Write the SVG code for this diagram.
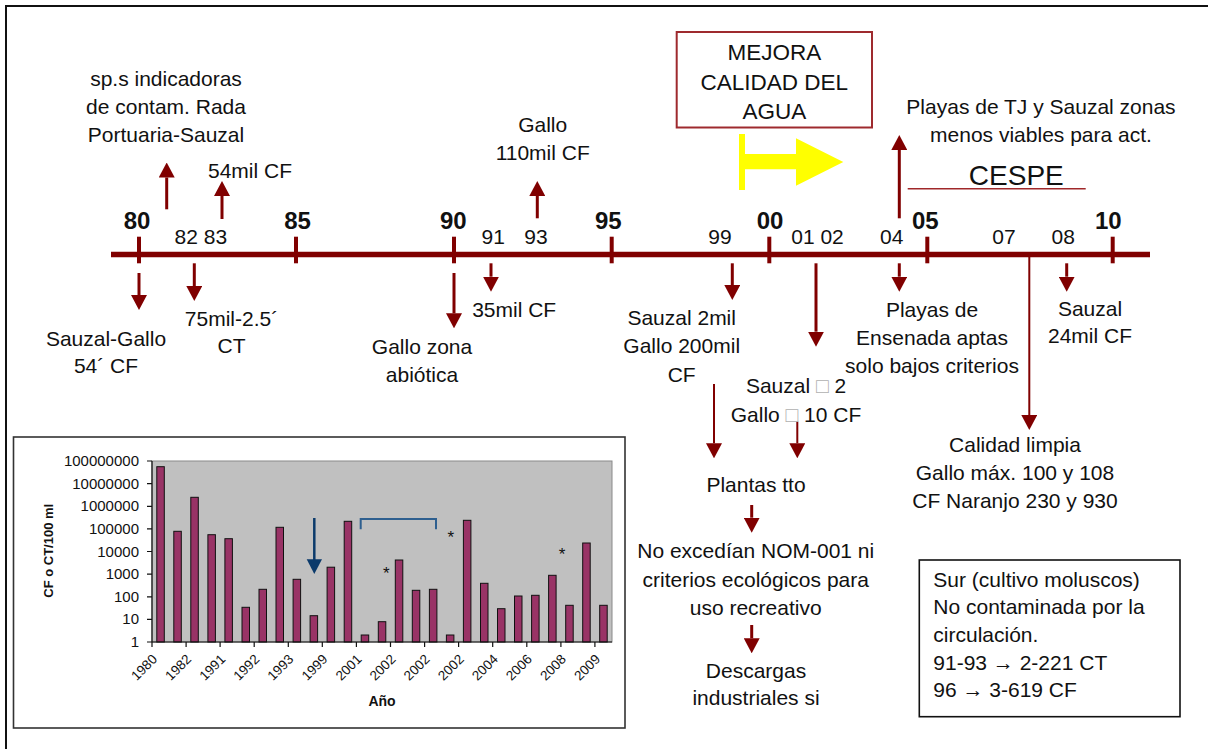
<svg xmlns="http://www.w3.org/2000/svg" width="1208" height="749" viewBox="0 0 1208 749">
<defs>
<marker id="ah" viewBox="0 0 15 16" refX="0" refY="8" markerWidth="15" markerHeight="16" markerUnits="userSpaceOnUse" orient="auto">
<path d="M0,0 L15,8 L0,16 z" fill="#800000"/>
</marker>
<style>
.t{font-family:"Liberation Sans",Arial,sans-serif;font-size:21px;fill:#111;text-anchor:middle}
.tl{text-anchor:start}
.sq{fill:#b0b0b0}
.maj{font-family:"Liberation Sans",Arial,sans-serif;font-size:24px;font-weight:bold;fill:#111;text-anchor:middle}
.arr{stroke:#800000;stroke-width:3;fill:none;marker-end:url(#ah)}
.thin{stroke-width:2}
.tick{stroke:#800000;stroke-width:4}
.ct{font-family:"Liberation Sans",Arial,sans-serif;font-size:15px;fill:#111}
.bar{fill:#993366;stroke:#111;stroke-width:1}
</style>
</defs>
<rect x="6" y="6" width="1212" height="760" fill="#fff" stroke="#111" stroke-width="2"/>

<g id="timeline">
<line x1="111" y1="254.5" x2="1150" y2="254.5" stroke="#800000" stroke-width="5.7"/>
<line class="tick" x1="139" y1="236.7" x2="139" y2="263.3"/>
<line class="tick" x1="296" y1="236.7" x2="296" y2="263.3"/>
<line class="tick" x1="454" y1="236.7" x2="454" y2="263.3"/>
<line class="tick" x1="611.7" y1="236.7" x2="611.7" y2="263.3"/>
<line class="tick" x1="769.3" y1="236.7" x2="769.3" y2="263.3"/>
<line class="tick" x1="927.3" y1="236.7" x2="927.3" y2="263.3"/>
<line class="tick" x1="1112.7" y1="236.7" x2="1112.7" y2="263.3"/>
<text class="maj" x="137" y="228.5">80</text>
<text class="maj" x="297.5" y="228.5">85</text>
<text class="maj" x="453.3" y="228.5">90</text>
<text class="maj" x="608.3" y="228.5">95</text>
<text class="maj" x="770" y="228.5">00</text>
<text class="maj" x="925.3" y="228.5">05</text>
<text class="maj" x="1108.3" y="228.5">10</text>
<text class="t" x="200.8" y="244.3">82 83</text>
<text class="t" x="493.3" y="244.3">91</text>
<text class="t" x="536" y="244.3">93</text>
<text class="t" x="720" y="244.3">99</text>
<text class="t" x="817.5" y="244.3">01 02</text>
<text class="t" x="891.7" y="244.3">04</text>
<text class="t" x="1004" y="244.3">07</text>
<text class="t" x="1063.3" y="244.3">08</text>
</g>

<g id="connectors">
<line class="arr" x1="166.7" y1="209.3" x2="166.7" y2="177.5"/>
<line class="arr" x1="222" y1="219" x2="222" y2="196"/>
<line class="arr" x1="139" y1="273" x2="139" y2="295"/>
<line class="arr" x1="194.3" y1="263.3" x2="194.3" y2="286"/>
<line class="arr" x1="537.3" y1="218.3" x2="537.3" y2="196"/>
<line class="arr" x1="454" y1="273" x2="454" y2="313.3"/>
<line class="arr" x1="491" y1="263.3" x2="491" y2="276.7"/>
<line class="arr" x1="732.3" y1="263.3" x2="732.3" y2="285"/>
<line class="arr" x1="816" y1="263.3" x2="816" y2="331.7"/>
<line class="arr" x1="899.3" y1="218.3" x2="899.3" y2="150"/>
<line class="arr" x1="899.3" y1="263.3" x2="899.3" y2="276.7"/>
<line class="arr thin" x1="1029.3" y1="255" x2="1029.3" y2="415"/>
<line class="arr" x1="1066.7" y1="263.3" x2="1066.7" y2="276.7"/>
<line class="arr thin" x1="714" y1="384" x2="714" y2="443.3"/>
<line class="arr thin" x1="797.3" y1="421.7" x2="797.3" y2="443.3"/>
<line class="arr" x1="751.7" y1="505" x2="751.7" y2="517.7"/>
<line class="arr" x1="751.7" y1="625" x2="751.7" y2="638.3"/>
</g>

<g id="n-sps">
<text class="t"><tspan x="166" y="86">sp.s indicadoras</tspan><tspan x="166" y="114">de contam. Rada</tspan><tspan x="166" y="141.7">Portuaria-Sauzal</tspan></text>
</g>
<g id="n-54mil"><text class="t" x="250" y="178.3">54mil CF</text></g>
<g id="n-sauzal-gallo"><text class="t"><tspan x="106" y="346">Sauzal-Gallo</tspan><tspan x="106" y="373.3">54´ CF</tspan></text></g>
<g id="n-75mil"><text class="t"><tspan x="231.5" y="325.7">75mil-2.5´</tspan><tspan x="231.5" y="353.3">CT</tspan></text></g>
<g id="n-gallo110"><text class="t"><tspan x="542.7" y="131.7">Gallo</tspan><tspan x="542.7" y="160">110mil CF</tspan></text></g>
<g id="n-gallo-zona"><text class="t"><tspan x="422" y="354">Gallo zona</tspan><tspan x="422" y="381.7">abiótica</tspan></text></g>
<g id="n-35mil"><text class="t" x="514.2" y="316.7">35mil CF</text></g>
<g id="n-sauzal2mil"><text class="t"><tspan x="681.7" y="325">Sauzal 2mil</tspan><tspan x="681.7" y="353.3">Gallo 200mil</tspan><tspan x="681.7" y="381.7">CF</tspan></text></g>
<g id="n-sauzal2"><text class="t"><tspan x="796" y="393.3">Sauzal <tspan class="sq">□</tspan> 2</tspan><tspan x="796" y="422.3">Gallo <tspan class="sq">□</tspan> 10 CF</tspan></text></g>
<g id="n-mejora">
<rect x="676.7" y="32" width="195.3" height="95.5" fill="#fff" stroke="#9e2a2e" stroke-width="2"/>
<text class="t" style="font-size:22.5px"><tspan x="774.3" y="60">MEJORA</tspan><tspan x="774.3" y="90">CALIDAD DEL</tspan><tspan x="774.3" y="119.3">AGUA</tspan></text>
</g>
<g id="n-yellow-arrow">
<rect x="739" y="134" width="6" height="56" fill="#ffff00"/>
<polygon points="745,154 796,154 796,138.3 843.3,162 796,185.7 796,169.3 745,169.3" fill="#ffff00"/>
</g>
<g id="n-playas-tj"><text class="t"><tspan x="1041" y="114.3">Playas de TJ y Sauzal zonas</tspan><tspan x="1041" y="141.7">menos viables para act.</tspan></text></g>
<g id="n-cespe">
<text class="t" style="font-size:28px" x="1016.3" y="185">CESPE</text>
<line x1="907.7" y1="188.7" x2="1085.7" y2="188.7" stroke="#a0282a" stroke-width="1.6"/>
</g>
<g id="n-playas-ens"><text class="t"><tspan x="932" y="316.7">Playas de</tspan><tspan x="932" y="345">Ensenada aptas</tspan><tspan x="932" y="372.7">solo bajos criterios</tspan></text></g>
<g id="n-sauzal24"><text class="t"><tspan x="1090" y="316">Sauzal</tspan><tspan x="1090" y="343.3">24mil CF</tspan></text></g>
<g id="n-calidad"><text class="t"><tspan x="1015" y="451.7">Calidad limpia</tspan><tspan x="1015" y="480">Gallo máx. 100 y 108</tspan><tspan x="1015" y="508.3">CF Naranjo 230 y 930</tspan></text></g>
<g id="n-plantas"><text class="t" x="756" y="492.3">Plantas tto</text></g>
<g id="n-noexcedian"><text class="t"><tspan x="755.7" y="558.3">No excedían NOM-001 ni</tspan><tspan x="755.7" y="586.7">criterios ecológicos para</tspan><tspan x="755.7" y="615">uso recreativo</tspan></text></g>
<g id="n-descargas"><text class="t"><tspan x="756" y="678.3">Descargas</tspan><tspan x="756" y="705">industriales si</tspan></text></g>
<g id="n-sur">
<rect x="919.3" y="560" width="260.7" height="156.7" fill="#fff" stroke="#111" stroke-width="1.6"/>
<text class="t tl"><tspan x="933.3" y="586.5">Sur (cultivo moluscos)</tspan><tspan x="933.3" y="614">No contaminada por la</tspan><tspan x="933.3" y="641.5">circulación.</tspan><tspan x="933.3" y="669.5">91-93 → 2-221 CT</tspan><tspan x="933.3" y="697">96 → 3-619 CF</tspan></text>
</g>

<g id="chart">
<rect x="13.5" y="437" width="611.5" height="291" fill="#fff" stroke="#333" stroke-width="1.6"/>
<rect x="152" y="461" width="460" height="181" fill="#c0c0c0" stroke="#8a8a8a" stroke-width="1"/>
<g class="bars">
<rect class="bar" x="156.8" y="466.7" width="7.5" height="175.3"/>
<rect class="bar" x="173.8" y="531.3" width="7.5" height="110.7"/>
<rect class="bar" x="190.8" y="497.3" width="7.5" height="144.7"/>
<rect class="bar" x="207.9" y="534.7" width="7.5" height="107.3"/>
<rect class="bar" x="224.9" y="538.7" width="7.5" height="103.3"/>
<rect class="bar" x="242.0" y="607.3" width="7.5" height="34.7"/>
<rect class="bar" x="259.0" y="589.3" width="7.5" height="52.7"/>
<rect class="bar" x="276.0" y="527.3" width="7.5" height="114.7"/>
<rect class="bar" x="293.1" y="579.3" width="7.5" height="62.7"/>
<rect class="bar" x="310.1" y="615.7" width="7.5" height="26.3"/>
<rect class="bar" x="327.1" y="567.2" width="7.5" height="74.8"/>
<rect class="bar" x="344.2" y="521.3" width="7.5" height="120.7"/>
<rect class="bar" x="361.2" y="635" width="7.5" height="7"/>
<rect class="bar" x="378.3" y="621.7" width="7.5" height="20.3"/>
<rect class="bar" x="395.3" y="560" width="7.5" height="82"/>
<rect class="bar" x="412.3" y="590.3" width="7.5" height="51.7"/>
<rect class="bar" x="429.4" y="589.3" width="7.5" height="52.7"/>
<rect class="bar" x="446.4" y="635" width="7.5" height="7"/>
<rect class="bar" x="463.4" y="520.3" width="7.5" height="121.7"/>
<rect class="bar" x="480.5" y="583.3" width="7.5" height="58.7"/>
<rect class="bar" x="497.5" y="608.7" width="7.5" height="33.3"/>
<rect class="bar" x="514.5" y="596" width="7.5" height="46"/>
<rect class="bar" x="531.6" y="595.3" width="7.5" height="46.7"/>
<rect class="bar" x="548.6" y="575.3" width="7.5" height="66.7"/>
<rect class="bar" x="565.7" y="605.3" width="7.5" height="36.7"/>
<rect class="bar" x="582.7" y="543" width="7.5" height="99"/>
<rect class="bar" x="599.7" y="605.3" width="7.5" height="36.7"/>
</g>
<g stroke="#111" stroke-width="1.2">
<line x1="152" y1="461" x2="152" y2="642"/>
<line x1="152" y1="642" x2="612" y2="642"/>
<path d="M147,461H152M147,483.6H152M147,506.3H152M147,528.9H152M147,551.5H152M147,574.1H152M147,596.8H152M147,619.4H152M147,642H152"/>
<path d="M152,642V647M186.1,642V647M220.1,642V647M254.2,642V647M288.3,642V647M322.3,642V647M356.4,642V647M390.5,642V647M424.6,642V647M458.6,642V647M492.7,642V647M526.8,642V647M560.9,642V647M594.9,642V647"/>
</g>
<g class="ct" text-anchor="end">
<text x="139" y="466">100000000</text>
<text x="139" y="488.6">10000000</text>
<text x="139" y="511.3">1000000</text>
<text x="139" y="533.9">100000</text>
<text x="139" y="556.5">10000</text>
<text x="139" y="579.1">1000</text>
<text x="139" y="601.8">100</text>
<text x="139" y="624.4">10</text>
<text x="139" y="647">1</text>
</g>
<g class="ct" text-anchor="end" style="font-size:13.5px">
<text transform="translate(158,660) rotate(-45)">1980</text>
<text transform="translate(192.1,660) rotate(-45)">1982</text>
<text transform="translate(226.2,660) rotate(-45)">1991</text>
<text transform="translate(260.2,660) rotate(-45)">1992</text>
<text transform="translate(294.3,660) rotate(-45)">1993</text>
<text transform="translate(328.4,660) rotate(-45)">1999</text>
<text transform="translate(362.5,660) rotate(-45)">2001</text>
<text transform="translate(396.5,660) rotate(-45)">2002</text>
<text transform="translate(430.6,660) rotate(-45)">2002</text>
<text transform="translate(464.7,660) rotate(-45)">2002</text>
<text transform="translate(498.8,660) rotate(-45)">2004</text>
<text transform="translate(532.8,660) rotate(-45)">2006</text>
<text transform="translate(566.9,660) rotate(-45)">2008</text>
<text transform="translate(601,660) rotate(-45)">2009</text>
</g>
<text class="ct" style="font-weight:bold;font-size:13px" text-anchor="middle" transform="translate(52.5,550.8) rotate(-90)">CF o CT/100 ml</text>
<text class="ct" style="font-weight:bold;font-size:14px" text-anchor="middle" x="382" y="706">Año</text>
<line x1="314.3" y1="518" x2="314.3" y2="560" stroke="#0b3a6b" stroke-width="2.5"/>
<polygon points="306.7,559.3 322,559.3 314.3,574" fill="#0b3a6b"/>
<path d="M360.7,529.3V519H436V529.3" fill="none" stroke="#2e5f8f" stroke-width="2"/>
<g class="ct" text-anchor="middle" style="font-size:17px">
<text x="386.3" y="579">*</text>
<text x="450.7" y="543">*</text>
<text x="562" y="560">*</text>
</g>
</g>
</svg>
